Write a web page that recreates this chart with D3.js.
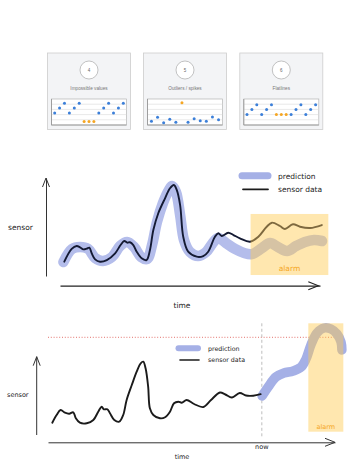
<!DOCTYPE html>
<html><head><meta charset="utf-8">
<script src="https://cdn.jsdelivr.net/npm/d3@7/dist/d3.min.js"></script>
<style>html,body{margin:0;padding:0;background:#fff;}svg{display:block;}</style>
</head><body>
<svg id="c" width="347" height="471"></svg>
<script>
// ---------- data ----------
const cardTitles = ["Impossible values", "Outliers / spikes", "Flatlines"];
const cardNumbers = ["4", "5", "6"];
const card1Values = [1.85,2.6,3.34,1.85,2.6,3.34,0.54,0.54,0.54,1.85,2.6,3.34,1.85,2.6,3.34];
const card1Anomalies = [6,7,8];
const card2Values = [0.57,1.18,0.35,0.88,0.42,3.43,0.42,0.97,0.66,0.57,1.23,0.82];
const card2Anomalies = [5];
const card3Values = [1.6,2.38,3.12,1.6,2.38,3.12,1.6,1.6,1.6,1.6,2.38,3.12,1.6,2.38,3.12];
const card3Anomalies = [6,7,8];

// chart 1 (prediction vs sensor, alarm when they diverge)
const sensorT1 = [1.65,4.5,6.4,7.7,9.0,10.3,11.3,12.2,13.5,15.4,18.0,21.2,23.3,24.7,25.9,26.9,28.2,29.5,31.4,33.3,34.6,35.9,37.8,40.4,42.3,43.8,44.9,46.2,47.4,49.3,52.6,55.1,57.0,59.6,60.9,62.2,64.7,66.7,69.2,73.1,76.3,79.5,81.5,84.6,86.5,89.6,92.3,96.2,100.7];
const sensorV1 = [14.6,27.6,30.6,29.3,27.2,27.9,28.9,23.2,17.0,14.6,16.3,23.2,31.6,35.7,34.0,34.4,31.6,24.8,18.1,16.3,26.5,46.9,64.0,79.3,89.5,92.9,87.8,72.4,40.1,24.8,19.7,20.4,24.8,40.1,43.6,40.8,44.2,41.8,38.5,35.0,40.1,50.3,54.4,51.0,48.0,52.8,50.3,49.0,52.0];
const predT1 = [1.3,4.6,7.7,10.8,13.5,16.5,20,23.1,25.8,28.5,31.2,33.5,35.4,37.3,39.6,41.9,43.1,44.6,46.2,47.7,50,53.1,56.2,58.5,60.8,63.8,67.3,70.8,73.8,77.7,80.8,83.8,87.3,90.8,94.2,97.7,100.8];
const predV1 = [14.3,27.6,29.6,27.6,18.4,15.3,19.4,30.6,34.7,29.6,19.4,17.3,31.6,55.1,74.5,87.8,91.8,85.7,62.2,36.7,24.5,20.4,24.5,32.7,38.8,33.7,27.6,23.5,22.4,28.6,33.7,29.6,25.5,30.6,34.7,36.7,35.7];
const alarm1T = [73.3, 103.2];
const alarm1V = [1, 63.3];

// chart 2 (forecast crossing threshold)
const sensorT2 = [1.5,3.0,4.4,5.9,7.4,8.8,9.7,11.1,13.5,15.8,17.5,18.7,19.5,20.7,21.6,23.1,24.8,26.2,27.4,29.2,30.9,32.3,33.2,34.0,34.9,35.5,36.7,39.0,40.8,42.5,43.9,45.4,46.6,48.3,50.9,54.1,56.8,59.9,61.8,64.1,66.8,69.0,71.5,74.1];
const sensorV2 = [12.3,20,25,22.3,21.3,22.7,16.7,12.3,11.7,15,23.3,28.3,25.7,25.7,21.7,15,13.3,20,35,50,63.3,71.7,73.3,66.7,48.3,26.7,20,16.7,17.7,23.3,31.7,33.3,32.3,35,31,28,35,42.5,40.5,37.5,42,39.5,39.3,40.8];
const predT2 = [74.6,76.7,79.4,82.2,85.4,88.2,89.9,91.6,93.7,96.2,98.6,100.7,102.1,102.4];
const predV2 = [39,48,58,62,64,68,76,90,102,107,106,101,93,85];
const threshold2 = 97.7;
const now2 = 74.5;
const alarm2T = [90.7, 102.9];
const alarm2V = [3.3, 111.7];

const labels = {sensor: "sensor", time: "time", prediction: "prediction", sensorData: "sensor data", alarm: "alarm", now: "now"};

// ---------- styles ----------
const BLUE1 = "#b4bdeb", BLUE2 = "#a5b0e6", DOT_BLUE = "#3b7fd9", ORANGE = "#f5a623", INK = "#1b1b1b";
const HAND = "'DejaVu Sans', sans-serif";

const svg = d3.select("#c");

// ---------- cards ----------
const cards = [
  {values: card1Values, anomalies: card1Anomalies, x: 47.5},
  {values: card2Values, anomalies: card2Anomalies, x: 143.5},
  {values: card3Values, anomalies: card3Anomalies, x: 239.8}
];
const cardW = 83, cardH = 76.5, cardY = 53;
cards.forEach((c, i) => {
  const g = svg.append("g").attr("transform", `translate(${c.x},${cardY})`);
  g.append("rect").attr("width", cardW).attr("height", cardH)
    .attr("fill", "#f3f4f6").attr("stroke", "#cdcdcd").attr("stroke-width", 0.8);
  g.append("circle").attr("cx", cardW/2).attr("cy", 17).attr("r", 9)
    .attr("fill", "#fff").attr("stroke", "#a9a9a9").attr("stroke-width", 0.7);
  g.append("text").attr("x", cardW/2).attr("y", 18.5).attr("text-anchor", "middle")
    .attr("font-family", "'Liberation Sans', Arial, sans-serif").attr("font-size", 4.5).attr("fill", "#666")
    .text(cardNumbers[i]);
  g.append("text").attr("x", cardW/2).attr("y", 36.8).attr("text-anchor", "middle")
    .attr("font-family", "'Liberation Sans', Arial, sans-serif").attr("font-size", 4.7).attr("fill", "#777")
    .text(cardTitles[i]);
  const bx0 = 4, bx1 = cardW - 4, by0 = 46, by1 = 72;
  const mx = d3.scalePoint().domain(d3.range(c.values.length)).range([bx0, bx1]).padding(0.65);
  const my = d3.scaleLinear().domain([0, 4]).range([by1, by0]);
  g.append("rect").attr("x", bx0).attr("y", by0).attr("width", bx1 - bx0).attr("height", by1 - by0)
    .attr("fill", "#fff").attr("stroke", "#b4b4b4").attr("stroke-width", 0.7);
  g.selectAll(".grid").data([0.8, 1.6, 2.4, 3.2]).join("line")
    .attr("x1", bx0).attr("x2", bx1).attr("y1", d => my(d)).attr("y2", d => my(d))
    .attr("stroke", "#dadada").attr("stroke-width", 0.6);
  g.append("line").attr("x1", bx0).attr("x2", bx0).attr("y1", by0).attr("y2", by1)
    .attr("stroke", "#999").attr("stroke-width", 0.9);
  g.append("line").attr("x1", bx0).attr("x2", bx1).attr("y1", by1).attr("y2", by1)
    .attr("stroke", "#999").attr("stroke-width", 0.9);
  g.selectAll(".dot").data(c.values).join("circle")
    .attr("cx", (d, j) => mx(j)).attr("cy", d => my(d)).attr("r", 1.5)
    .attr("fill", (d, j) => c.anomalies.includes(j) ? ORANGE : DOT_BLUE);
});

// ---------- helpers ----------
function arrowUp(x, y) {
  return `M${x-3.5},${y+9} L${x},${y} L${x+3.5},${y+9}`;
}
function arrowRight(x, y) {
  return `M${x-10},${y-4} L${x},${y} L${x-10},${y+4}`;
}
const zip = (t, v) => t.map((d, i) => [d, v[i]]);

// ---------- chart 1 ----------
{
  const xs = d3.scaleLinear().domain([0, 100]).range([60, 320]);
  const ys = d3.scaleLinear().domain([0, 100]).range([276, 178]);
  const line = d3.line().x(d => xs(d[0])).y(d => ys(d[1])).curve(d3.curveCatmullRom.alpha(0.5));
  const g = svg.append("g");

  g.append("path").attr("d", line(zip(predT1, predV1)))
    .attr("fill", "none").attr("stroke", BLUE1).attr("stroke-width", 10.5)
    .attr("stroke-linecap", "round").attr("stroke-linejoin", "round");
  g.append("path").attr("d", line(zip(sensorT1, sensorV1)))
    .attr("fill", "none").attr("stroke", "#141a33").attr("stroke-width", 1.9)
    .attr("stroke-linecap", "round").attr("stroke-linejoin", "round");
  g.append("rect").attr("x", xs(alarm1T[0])).attr("y", ys(alarm1V[1]))
    .attr("width", xs(alarm1T[1]) - xs(alarm1T[0])).attr("height", ys(alarm1V[0]) - ys(alarm1V[1]))
    .attr("fill", "#ffc94d").attr("fill-opacity", 0.45);
  g.append("text").attr("x", xs((alarm1T[0] + alarm1T[1]) / 2)).attr("y", 271)
    .attr("text-anchor", "middle").attr("font-family", HAND).attr("font-size", 7.5).attr("fill", ORANGE)
    .text(labels.alarm);

  const yAxis = g.append("g").attr("transform", "translate(46,0)")
    .call(d3.axisLeft(ys).tickValues([]).tickSizeOuter(0));
  yAxis.select(".domain").attr("stroke", "#333").attr("stroke-width", 1);
  g.append("path").attr("d", arrowUp(46, ys(100))).attr("fill", "none").attr("stroke", "#333").attr("stroke-width", 1);
  const xAxis = g.append("g").attr("transform", "translate(0,285.7)")
    .call(d3.axisBottom(xs).tickValues([]).tickSizeOuter(0));
  xAxis.select(".domain").attr("stroke", "#222").attr("stroke-width", 1.3);
  g.append("path").attr("d", arrowRight(xs(100) - 1.7, 285.7)).attr("fill", "none").attr("stroke", "#222").attr("stroke-width", 1.1);

  g.append("text").attr("x", 8).attr("y", 230).attr("font-family", HAND).attr("font-size", 7.5).attr("fill", "#222").text(labels.sensor);
  g.append("text").attr("x", 182).attr("y", 308).attr("text-anchor", "middle").attr("font-family", HAND).attr("font-size", 7.5).attr("fill", "#222").text(labels.time);

  g.append("line").attr("x1", 242).attr("x2", 268).attr("y1", 175.7).attr("y2", 175.7)
    .attr("stroke", BLUE2).attr("stroke-width", 7).attr("stroke-linecap", "round");
  g.append("line").attr("x1", 243).attr("x2", 268).attr("y1", 189.3).attr("y2", 189.3)
    .attr("stroke", INK).attr("stroke-width", 1.8).attr("stroke-linecap", "round");
  g.append("text").attr("x", 278).attr("y", 178.5).attr("font-family", HAND).attr("font-size", 7.5).attr("fill", "#222").text(labels.prediction);
  g.append("text").attr("x", 278).attr("y", 191.8).attr("font-family", HAND).attr("font-size", 7.5).attr("fill", "#222").text(labels.sensorData);
}

// ---------- chart 2 ----------
{
  const xs = d3.scaleLinear().domain([0, 100]).range([48, 335]);
  const ys = d3.scaleLinear().domain([0, 100]).range([435, 335]);
  const line = d3.line().x(d => xs(d[0])).y(d => ys(d[1])).curve(d3.curveCatmullRom.alpha(0.5));
  const g = svg.append("g");

  g.append("line").attr("x1", xs(0)).attr("x2", 344).attr("y1", ys(threshold2)).attr("y2", ys(threshold2))
    .attr("stroke", "#e0625c").attr("stroke-width", 0.9).attr("stroke-dasharray", "1,1.8");
  g.append("line").attr("x1", xs(now2)).attr("x2", xs(now2)).attr("y1", ys(111.7)).attr("y2", 438)
    .attr("stroke", "#b5b5b5").attr("stroke-width", 0.9).attr("stroke-dasharray", "3,2.5");

  g.append("path").attr("d", line(zip(predT2, predV2)))
    .attr("fill", "none").attr("stroke", BLUE2).attr("stroke-width", 9.5)
    .attr("stroke-linecap", "round").attr("stroke-linejoin", "round");
  g.append("path").attr("d", line(zip(sensorT2, sensorV2)))
    .attr("fill", "none").attr("stroke", INK).attr("stroke-width", 1.9)
    .attr("stroke-linecap", "round").attr("stroke-linejoin", "round");

  g.append("rect").attr("x", xs(alarm2T[0])).attr("y", ys(alarm2V[1]))
    .attr("width", xs(alarm2T[1]) - xs(alarm2T[0])).attr("height", ys(alarm2V[0]) - ys(alarm2V[1]))
    .attr("fill", "#ffc94d").attr("fill-opacity", 0.45);
  g.append("text").attr("x", xs((alarm2T[0] + alarm2T[1]) / 2)).attr("y", 428.5)
    .attr("text-anchor", "middle").attr("font-family", HAND).attr("font-size", 6.5).attr("fill", ORANGE)
    .text(labels.alarm);

  g.append("line").attr("x1", 36.7).attr("x2", 36.7).attr("y1", ys(0)).attr("y2", ys(78.3))
    .attr("stroke", "#333").attr("stroke-width", 1);
  g.append("path").attr("d", arrowUp(36.7, ys(78.3))).attr("fill", "none").attr("stroke", "#333").attr("stroke-width", 1);
  const xAxis = g.append("g").attr("transform", "translate(0,442.3)")
    .call(d3.axisBottom(xs).tickValues([]).tickSizeOuter(0));
  xAxis.select(".domain").attr("stroke", "#333").attr("stroke-width", 1);
  g.append("path").attr("d", arrowRight(xs(100), 442.3)).attr("fill", "none").attr("stroke", "#333").attr("stroke-width", 1);

  g.append("text").attr("x", 7).attr("y", 397).attr("font-family", HAND).attr("font-size", 6.5).attr("fill", "#222").text(labels.sensor);
  g.append("text").attr("x", 182).attr("y", 459).attr("text-anchor", "middle").attr("font-family", HAND).attr("font-size", 6.5).attr("fill", "#222").text(labels.time);
  g.append("text").attr("x", xs(now2)).attr("y", 449).attr("text-anchor", "middle").attr("font-family", HAND).attr("font-size", 6.5).attr("fill", "#222").text(labels.now);

  g.append("line").attr("x1", 178.5).attr("x2", 198).attr("y1", 348.3).attr("y2", 348.3)
    .attr("stroke", BLUE2).attr("stroke-width", 6).attr("stroke-linecap", "round");
  g.append("line").attr("x1", 180).attr("x2", 199).attr("y1", 360).attr("y2", 360)
    .attr("stroke", INK).attr("stroke-width", 1.6).attr("stroke-linecap", "round");
  g.append("text").attr("x", 208).attr("y", 350.5).attr("font-family", HAND).attr("font-size", 6.3).attr("fill", "#222").text(labels.prediction);
  g.append("text").attr("x", 208).attr("y", 362).attr("font-family", HAND).attr("font-size", 6.3).attr("fill", "#222").text(labels.sensorData);
}
</script>
</body></html>
